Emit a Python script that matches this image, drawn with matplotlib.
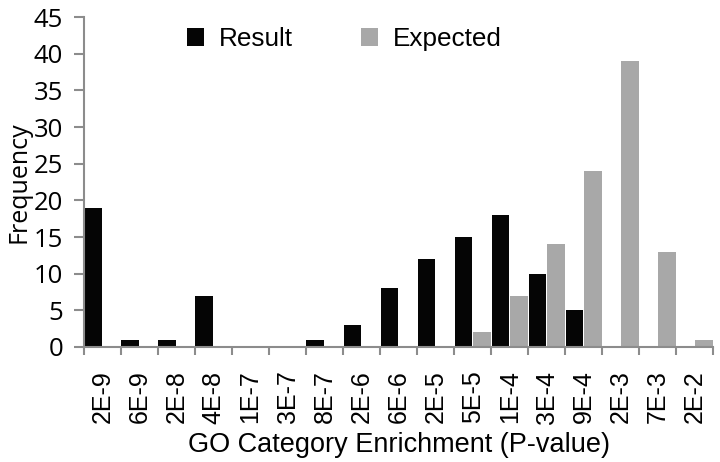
import numpy as np
import matplotlib

matplotlib.use('Agg')
import matplotlib.pyplot as plt

categories = ['2E-9', '6E-9', '2E-8', '4E-8', '1E-7', '3E-7', '8E-7', '2E-6', '6E-6',
              '2E-5', '5E-5', '1E-4', '3E-4', '9E-4', '2E-3', '7E-3', '2E-2']
result = [19, 1, 1, 7, 0, 0, 1, 3, 8, 12, 15, 18, 10, 5, 0, 0, 0]
expected = [0, 0, 0, 0, 0, 0, 0, 0, 0, 0, 2, 7, 14, 24, 39, 13, 1]

AXIS_GREY = '#8c8c8c'

fig = plt.figure(figsize=(7.2, 4.62), dpi=100)
ax = fig.add_axes([0.1167, 0.249, 0.874, 0.714])

x = np.arange(len(categories))
ax.bar(x - 0.25, result, width=0.48, color='#050505', label='Result')
ax.bar(x + 0.25, expected, width=0.48, color='#a8a8a8', label='Expected')

ax.set_xlim(-0.5, len(categories) - 0.5)
ax.set_ylim(0, 45)
ax.set_yticks(range(0, 46, 5))

# labels under the categories, tick marks at the boundaries
ax.set_xticks(x)
ax.set_xticklabels(categories, rotation=90, family='Liberation Sans', fontsize=18)
ax.set_xticks(np.arange(-0.5, len(categories)), minor=True)
ax.tick_params(axis='x', which='major', length=0, pad=17)
ax.tick_params(axis='x', which='minor', length=6, width=1.5, color=AXIS_GREY, direction='out')
ax.tick_params(axis='y', length=7, width=1.5, color=AXIS_GREY, pad=8, labelsize=18.5)
for lbl in ax.get_yticklabels():
    lbl.set_family('Open Sans')

for side in ['top', 'right']:
    ax.spines[side].set_visible(False)
for side in ['left', 'bottom']:
    ax.spines[side].set_color(AXIS_GREY)
    ax.spines[side].set_linewidth(1.5)

ax.set_xlabel('GO Category Enrichment (P-value)', family='Liberation Sans', fontsize=19.5, labelpad=6)
ax.set_ylabel('Frequency', family='Open Sans', fontsize=18, labelpad=2)

ax.legend(loc='center left', bbox_to_anchor=(187 / 720, 1 - 39 / 462), bbox_transform=fig.transFigure,
          ncol=2, frameon=False, borderpad=0, borderaxespad=0,
          prop={'family': 'Liberation Sans', 'size': 18.8}, handlelength=0.65, handleheight=0.65,
          handletextpad=0.58, columnspacing=2.6)

fig.savefig('out.png', dpi=100)
